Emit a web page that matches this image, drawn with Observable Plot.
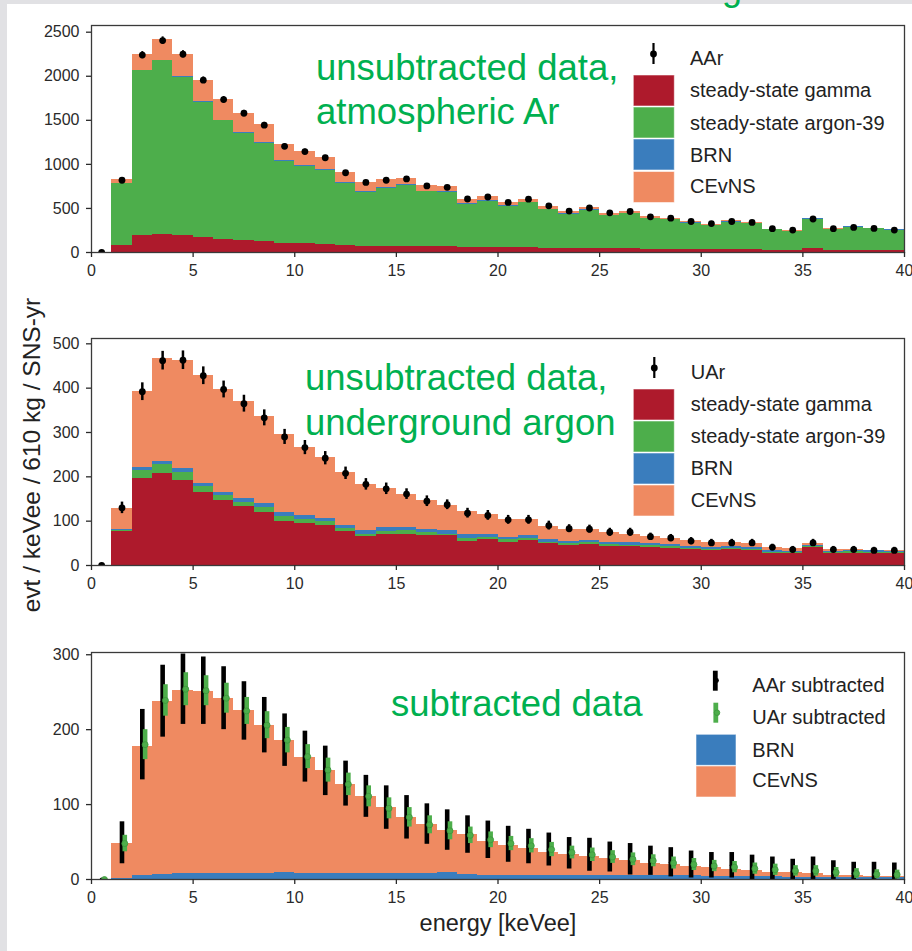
<!DOCTYPE html>
<html>
<head>
<meta charset="utf-8">
<script src="https://cdn.jsdelivr.net/npm/d3@7"></script>
<script src="https://cdn.jsdelivr.net/npm/@observablehq/plot@0.6"></script>
<style>
  html, body { margin: 0; padding: 0; background: #fff; }
  #page { position: relative; width: 912px; height: 951px; overflow: hidden; background: #fff;
          font-family: "Liberation Sans", Arial, Helvetica, sans-serif; }
  .panel { position: absolute; left: 0; }
  .panel svg { display: block; }
  #overlay { position: absolute; left: 0; top: 0; pointer-events: none; }
</style>
</head>
<body>
<div id="page"></div>
<script>
// ---- energy binning (keVee) ----
const binEdges = [0,1,2,3,4,5,6,7,8,9,10,11,12,13,14,15,16,17,18,19,20,
                  21,22,23,24,25,26,27,28,29,30,31,32,33,34,35,36,37,38,39,40];
const xTicks = [0, 5, 10, 15, 20, 25, 30, 35, 40];

// ---- predicted components, evt / keVee / 610 kg / SNS-yr ----
const cevns = [0, 46, 172, 231, 244, 243, 233, 218, 198, 175, 155, 137, 119, 103, 88, 75, 65, 56, 53, 45,
               39, 35, 30, 27, 25, 23, 20, 17, 15, 13, 12, 10, 8, 6, 6, 5, 3, 2, 1, 1];
const brn = [0, 2, 6, 7, 8, 8, 8, 8, 8, 10, 8, 8, 8, 8, 8, 8, 8, 9, 7, 6,
             6, 6, 6, 6, 6, 5, 5, 5, 5, 5, 4, 4, 4, 4, 3, 3, 3, 3, 3, 3];

// atmospheric argon
const gammaAAr = [0, 84, 198, 205, 195, 170, 145, 140, 130, 102, 100, 95, 82, 72, 72, 72, 70, 70, 58, 60,
                  55, 58, 50, 45, 48, 42, 42, 38, 36, 32, 30, 32, 30, 26, 25, 40, 26, 26, 25, 25];
const ar39AAr = [0, 694, 1867, 1971, 1796, 1530, 1349, 1214, 1112, 933, 881, 840, 700, 612, 658, 690, 617, 610, 489, 522,
                 468, 508, 433, 388, 432, 373, 399, 345, 334, 302, 276, 314, 299, 230, 212, 339, 237, 261, 244, 229];
const dataAAr = [0, 820, 2240, 2405, 2250, 1955, 1735, 1580, 1445, 1205, 1145, 1075, 905, 795, 820, 835, 755, 740, 607, 630,
                 568, 605, 530, 470, 505, 450, 465, 405, 390, 352, 328, 352, 341, 270, 254, 380, 270, 284, 273, 254];
const errAAr = [0, 25, 40, 42, 40, 37, 35, 33, 32, 29, 28, 27, 25, 24, 24, 24, 23, 23, 21, 21,
                20, 21, 19, 18, 19, 18, 18, 17, 17, 16, 15, 16, 16, 14, 14, 17, 14, 14, 14, 14];

// underground argon
const gammaUAr = [0, 77, 197, 207, 192, 165, 147, 133, 119, 100, 95, 90, 77, 66, 71, 71, 68, 68, 55, 58,
                  53, 56, 49, 44, 47, 42, 42, 40, 38, 35, 33, 35, 33, 28, 27, 40, 27, 28, 27, 27];
const ar39UAr = [0, 3, 17, 21, 18, 13, 10, 10, 12, 10, 9, 9, 6, 5, 6, 7, 6, 3, 7, 5,
                 5, 6, 4, 5, 4, 5, 4, 4, 4, 3, 3, 3, 4, 2, 2, 2, 2, 3, 3, 2];
const dataUAr = [0, 130, 392, 462, 463, 428, 397, 365, 333, 290, 266, 242, 208, 183, 173, 161, 145, 137, 118, 113,
                 103, 103, 90, 83, 82, 75, 75, 65, 62, 55, 51, 51, 51, 41, 36, 51, 36, 36, 34, 34];
const errUAr = [0, 13, 20, 21, 21, 20, 19, 19, 18, 17, 16, 15, 14, 13, 13, 12, 12, 11, 11, 11,
                10, 10, 10, 9, 9, 9, 9, 8, 8, 8, 8, 8, 8, 7, 7, 8, 7, 7, 7, 7];

// background-subtracted data
const subAAr = [0, 49, 180, 238, 254, 252, 242, 225, 206, 186, 164, 145, 128, 111, 96, 83, 74, 66, 60, 53,
                47, 44, 40, 35, 33, 30, 27, 25, 23, 20, 19, 19, 16, 14, 11, 14, 10, 8, 8, 7];
const errSubAAr = [0, 28, 47, 48, 47, 45, 42, 39, 37, 35, 34, 33, 30, 28, 29, 29, 27, 27, 25, 25,
                   24, 23, 22, 21, 22, 20, 21, 19.5, 19.5, 18, 17, 17, 16.5, 16, 16, 16, 15, 15, 15, 15];
const subUAr = [0, 48, 180, 239, 254, 252, 242, 225, 206, 186, 164, 146, 127, 111, 95, 83, 73, 65, 59, 53,
                48, 45, 40, 36, 33, 30, 27, 25, 22, 20, 18, 16.5, 14.5, 13, 11.5, 11.5, 9.5, 8, 7, 6.5];
const errSubUAr = [0, 11, 20, 21, 22, 20, 20, 18, 18, 17, 16, 16, 15, 14, 14, 13, 12, 12, 11, 10.5,
                   9.5, 9.5, 9.5, 8.5, 9, 8.5, 8.5, 8, 8, 8, 7.5, 7.5, 7.5, 7.5, 7, 7, 6.5, 6.5, 6, 6];

// ---- series names and colours ----
const seriesNames = ["steady-state gamma", "steady-state argon-39", "BRN", "CEvNS"];
const seriesColors = ["#ae1a2c", "#4dae4b", "#3a7dbd", "#ef8a61"];
const annotGreen = "#00b050";

// ---- helpers ----
const nBins = binEdges.length - 1;
function stackRows(components) {
  const rows = [];
  for (let i = 0; i < nBins; i++) {
    for (const [name, values] of components) {
      rows.push({x1: binEdges[i], x2: binEdges[i + 1], v: values[i], s: name});
    }
  }
  return rows;
}
function pointRows(values, errors) {
  const rows = [];
  for (let i = 0; i < nBins; i++) {
    rows.push({x: (binEdges[i] + binEdges[i + 1]) / 2, v: values[i], lo: values[i] - errors[i], hi: values[i] + errors[i]});
  }
  return rows;
}

const FRAME_H = 227;
function makePanel({top, marginTop, yMax, yTicks, marks}) {
  const marginBottom = 30;
  const chart = Plot.plot({
    width: 912,
    height: marginTop + FRAME_H + marginBottom,
    marginLeft: 91, marginRight: 8, marginTop, marginBottom,
    x: {domain: [0, 40]},
    y: {domain: [0, yMax]},
    color: {domain: seriesNames, range: seriesColors},
    style: {fontFamily: "'Liberation Sans', Arial, Helvetica, sans-serif", fontSize: "16px", color: "#2a2a2a", background: "transparent"},
    marks: [
      ...marks,
      Plot.frame({stroke: "#3a3a3a", strokeWidth: 1.3}),
      Plot.axisX({ticks: xTicks, tickSize: 5, tickPadding: 7, tickFormat: d3.format("d"), label: null, strokeWidth: 1.3}),
      Plot.axisY({ticks: yTicks, tickSize: 5, tickPadding: 7, tickFormat: d3.format("d"), label: null, strokeWidth: 1.3})
    ]
  });
  const div = document.createElement("div");
  div.className = "panel";
  div.style.top = top + "px";
  div.appendChild(chart);
  document.getElementById("page").appendChild(div);
}

function histogram(components) {
  return Plot.rectY(stackRows(components), {
    x1: "x1", x2: "x2", y: "v", fill: "s", order: null, clip: true, shapeRendering: "crispEdges"
  });
}
function dataPoints(values, errors, w, r) {
  const rows = pointRows(values, errors);
  return [
    Plot.ruleX(rows, {x: "x", y1: "lo", y2: "hi", stroke: "#000", strokeWidth: w, clip: true}),
    Plot.dot(rows, {x: "x", y: "v", r, fill: "#000", stroke: "none", clip: true})
  ];
}

// Panel 1: atmospheric argon, unsubtracted
makePanel({
  top: 0, marginTop: 25, yMax: 2576, yTicks: [0, 500, 1000, 1500, 2000, 2500],
  marks: [
    histogram([[seriesNames[0], gammaAAr], [seriesNames[1], ar39AAr], [seriesNames[2], brn], [seriesNames[3], cevns]]),
    ...dataPoints(dataAAr, errAAr, 2, 3.4)
  ]
});

// Panel 2: underground argon, unsubtracted
makePanel({
  top: 300, marginTop: 38, yMax: 512, yTicks: [0, 100, 200, 300, 400, 500],
  marks: [
    histogram([[seriesNames[0], gammaUAr], [seriesNames[1], ar39UAr], [seriesNames[2], brn], [seriesNames[3], cevns]]),
    ...dataPoints(dataUAr, errUAr, 2.5, 3.4)
  ]
});

// Panel 3: background-subtracted spectra
{
  const aar = pointRows(subAAr, errSubAAr);
  const uar = pointRows(subUAr, errSubUAr);
  makePanel({
    top: 630, marginTop: 22, yMax: 303, yTicks: [0, 100, 200, 300],
    marks: [
      histogram([[seriesNames[2], brn], [seriesNames[3], cevns]]),
      Plot.ruleX(aar, {x: "x", y1: "lo", y2: "hi", stroke: "#000", strokeWidth: 4.6, clip: true}),
      Plot.dot(aar, {x: "x", y: "v", r: 2, fill: "#000", clip: true}),
      Plot.ruleX(uar, {x: "x", y1: "lo", y2: "hi", dx: 2.8, stroke: "#4dae4b", strokeWidth: 4.6, clip: true}),
      Plot.dot(uar, {x: "x", y: "v", dx: 2.8, r: 3, fill: "#4dae4b", stroke: "#3c963c", strokeWidth: 0.8, clip: true})
    ]
  });
}

// ---- overlay: annotations, legends, axis titles ----
const NS = "http://www.w3.org/2000/svg";
const ov = document.createElementNS(NS, "svg");
ov.setAttribute("id", "overlay");
ov.setAttribute("width", 912);
ov.setAttribute("height", 951);
document.getElementById("page").appendChild(ov);
function el(tag, attrs, text) {
  const e = document.createElementNS(NS, tag);
  for (const k in attrs) e.setAttribute(k, attrs[k]);
  if (text != null) e.textContent = text;
  ov.appendChild(e);
  return e;
}
const FONT = "'Liberation Sans', Arial, Helvetica, sans-serif";

// slide border
el("rect", {x: 0, y: 0, width: 912, height: 4, fill: "#e1e1e4"});
el("rect", {x: 0, y: 0, width: 7, height: 951, fill: "#e1e1e4"});
// tail of the slide heading above
el("text", {x: 722, y: 0, "font-family": FONT, "font-size": 36, fill: annotGreen}, "g");

// green annotations
function note(x, y, s) { el("text", {x, y, "font-family": FONT, "font-size": 36.5, fill: annotGreen}, s); }
note(316, 80, "unsubtracted data,");
note(316, 124, "atmospheric Ar");
note(305, 390, "unsubtracted data,");
note(305, 435, "underground argon");
note(391, 716, "subtracted data");

// legends
function legText(x, y, s) { el("text", {x, y, "font-family": FONT, "font-size": 20, fill: "#222"}, s); }
function swatch(x, y, w, h, fill) {
  el("rect", {x, y, width: w, height: h, fill, stroke: "rgba(255,255,255,0.55)", "stroke-width": 1});
}
function errMarker(x, y1, y2, cy) {
  el("line", {x1: x, x2: x, y1, y2, stroke: "#000", "stroke-width": 2.2});
  el("circle", {cx: x, cy, r: 3.4, fill: "#000"});
}
function stackLegend(swX, txtX, swTops, baselines, label, marker) {
  errMarker(marker.x, marker.y1, marker.y2, marker.cy);
  legText(txtX, baselines[0], label);
  for (let k = 0; k < 4; k++) {
    swatch(swX, swTops[k], 41, 31, seriesColors[k]);
    legText(txtX, baselines[k + 1], seriesNames[k]);
  }
}
stackLegend(633.3, 690, [75, 107, 139, 171.5], [65, 97.3, 130, 161.7, 193.3], "AAr",
            {x: 653.5, y1: 43, y2: 64, cy: 54});
stackLegend(633.3, 690.7, [389, 421, 453, 485], [379, 411, 443.3, 475, 506.7], "UAr",
            {x: 654.3, y1: 357, y2: 378, cy: 368});

// subtracted-data legend
el("line", {x1: 715.3, x2: 715.3, y1: 670.7, y2: 690.7, stroke: "#000", "stroke-width": 4.8});
el("circle", {cx: 716.5, cy: 680.5, r: 2.4, fill: "#000"});
legText(752.3, 692.3, "AAr subtracted");
el("line", {x1: 715.8, x2: 715.8, y1: 702.7, y2: 722.7, stroke: "#4dae4b", "stroke-width": 4.8});
el("circle", {cx: 717, cy: 712.7, r: 2.8, fill: "#4dae4b", stroke: "#3c963c", "stroke-width": 0.8});
legText(752.3, 724, "UAr subtracted");
swatch(696, 734.3, 40, 31, seriesColors[2]);
legText(752.3, 756.7, "BRN");
swatch(696, 766, 40, 31, seriesColors[3]);
legText(752.3, 787.3, "CEvNS");

// axis titles
el("text", {transform: "translate(40,455) rotate(-90)", "text-anchor": "middle", "font-family": FONT,
            "font-size": 24.5, fill: "#222"}, "evt / keVee / 610 kg / SNS-yr");
el("text", {x: 498, y: 931, "text-anchor": "middle", "font-family": FONT, "font-size": 23.5, fill: "#222"},
   "energy [keVee]");
</script>
</body>
</html>
